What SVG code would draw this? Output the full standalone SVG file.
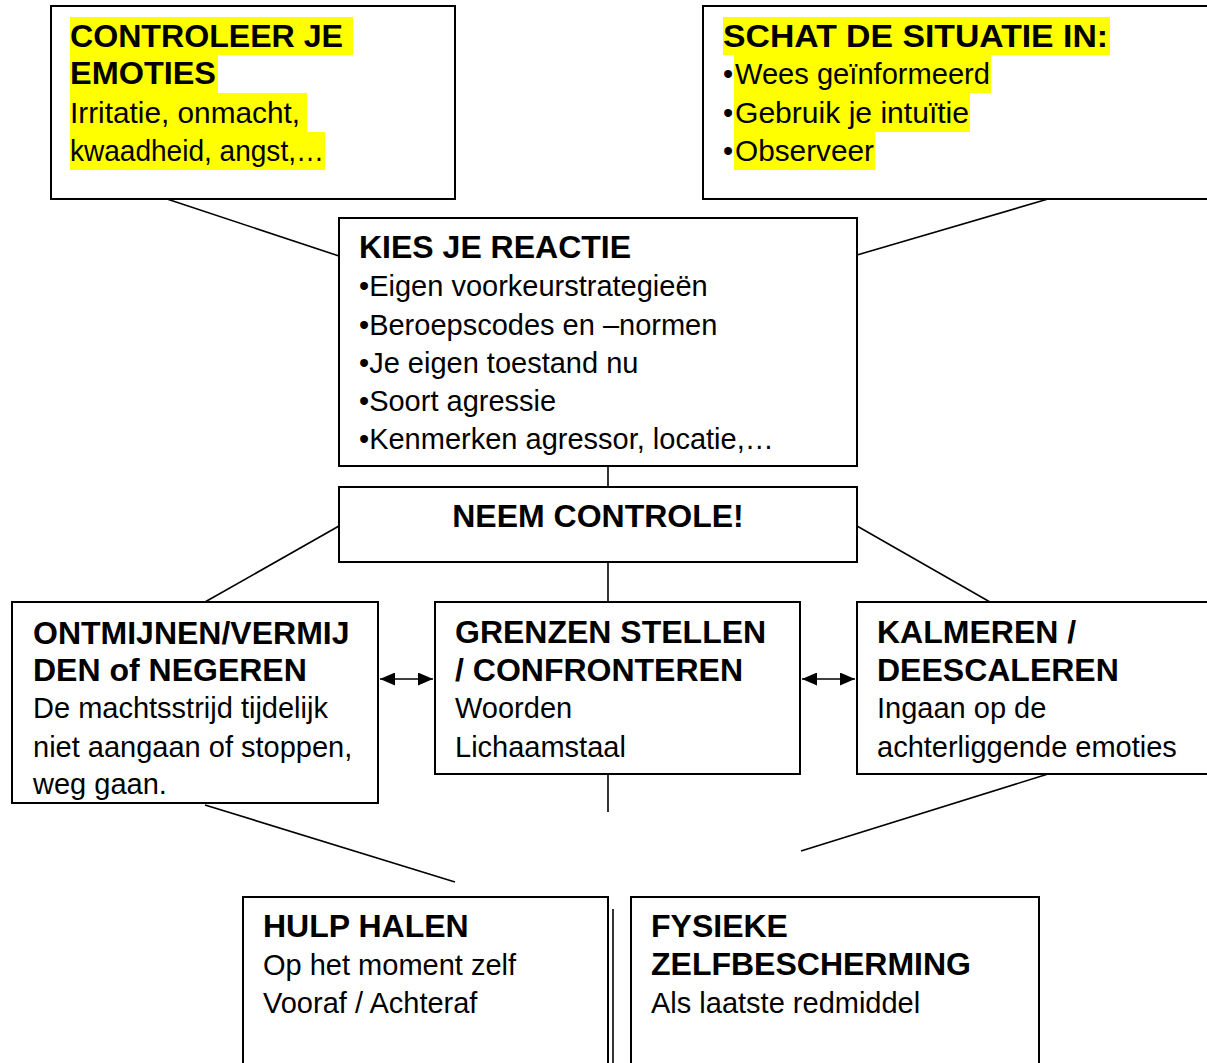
<svg xmlns="http://www.w3.org/2000/svg" width="1207" height="1063" viewBox="0 0 1207 1063">
<style>
.box{fill:#fff;stroke:#000;stroke-width:2}
.t{font-family:"Liberation Sans",Arial,sans-serif;font-size:29px;fill:#000}
.b{font-family:"Liberation Sans",Arial,sans-serif;font-size:32px;font-weight:bold;fill:#000}
.hl{fill:#ffff00}
.ln{stroke:#000;stroke-width:1.6;fill:none}
</style>
<defs>
<marker id="ah2" viewBox="0 0 15 13" refX="15" refY="6.5" markerWidth="15" markerHeight="13" orient="auto-start-reverse" markerUnits="userSpaceOnUse">
<path d="M0,0 L15,6.5 L0,13 z" fill="#000"/>
</marker>
</defs>
<rect width="1207" height="1063" fill="#fff"/>
<g id="connectors">
<line class="ln" x1="167" y1="199" x2="339" y2="256"/>
<line class="ln" x1="1048" y1="199" x2="857" y2="255"/>
<line class="ln" x1="608" y1="466" x2="608" y2="487"/>
<line class="ln" x1="339" y1="526" x2="205" y2="602"/>
<line class="ln" x1="857" y1="526" x2="990" y2="602"/>
<line class="ln" x1="608" y1="562" x2="608" y2="602"/>
<line class="ln" x1="380" y1="679" x2="433" y2="679" marker-start="url(#ah2)" marker-end="url(#ah2)"/>
<line class="ln" x1="802" y1="679" x2="855" y2="679" marker-start="url(#ah2)" marker-end="url(#ah2)"/>
<line class="ln" x1="608" y1="774" x2="608" y2="812"/>
<line class="ln" x1="205" y1="805" x2="455" y2="882"/>
<line class="ln" x1="1048" y1="774" x2="801" y2="851"/>
<line class="ln" x1="613" y1="909" x2="613" y2="1063"/>
</g>
<g id="emoties">
<rect class="box" x="51" y="6" width="404" height="193"/>
<rect class="hl" x="70" y="17" width="283" height="38"/>
<rect class="hl" x="70" y="55" width="148" height="38"/>
<rect class="hl" x="70" y="93" width="237" height="39"/>
<rect class="hl" x="70" y="132" width="255" height="38"/>
<text class="b" x="70" y="47" textLength="273" lengthAdjust="spacingAndGlyphs">CONTROLEER JE</text>
<text class="b" x="70" y="84" textLength="146" lengthAdjust="spacingAndGlyphs">EMOTIES</text>
<text class="t" x="70" y="123" textLength="230" lengthAdjust="spacingAndGlyphs">Irritatie, onmacht,</text>
<text class="t" x="70" y="161" textLength="254" lengthAdjust="spacingAndGlyphs">kwaadheid, angst,…</text>
</g>
<g id="situatie">
<rect class="box" x="703" y="6" width="510" height="193"/>
<rect class="hl" x="723" y="17" width="387" height="38"/>
<rect class="hl" x="734" y="55" width="257" height="38"/>
<rect class="hl" x="734" y="93" width="236" height="39"/>
<rect class="hl" x="734" y="132" width="141" height="38"/>
<text class="b" x="723" y="47" textLength="385" lengthAdjust="spacingAndGlyphs">SCHAT DE SITUATIE IN:</text>
<text class="t" x="723" y="84">•</text>
<text class="t" x="735" y="84" textLength="255" lengthAdjust="spacingAndGlyphs">Wees geïnformeerd</text>
<text class="t" x="723" y="123">•</text>
<text class="t" x="735" y="123" textLength="234" lengthAdjust="spacingAndGlyphs">Gebruik je intuïtie</text>
<text class="t" x="723" y="161">•</text>
<text class="t" x="735" y="161" textLength="139" lengthAdjust="spacingAndGlyphs">Observeer</text>
</g>
<g id="reactie">
<rect class="box" x="339" y="218" width="518" height="248"/>
<text class="b" x="359" y="258">KIES JE REACTIE</text>
<text class="t" x="359" y="296">•Eigen voorkeurstrategieën</text>
<text class="t" x="359" y="335">•Beroepscodes en –normen</text>
<text class="t" x="359" y="373">•Je eigen toestand nu</text>
<text class="t" x="359" y="411">•Soort agressie</text>
<text class="t" x="359" y="449">•Kenmerken agressor, locatie,…</text>
</g>
<g id="controle">
<rect class="box" x="339" y="487" width="518" height="75"/>
<text class="b" x="598" y="527" text-anchor="middle">NEEM CONTROLE!</text>
</g>
<g id="ontmijnen">
<rect class="box" x="12" y="602" width="366" height="201"/>
<text class="b" x="33" y="644">ONTMIJNEN/VERMIJ</text>
<text class="b" x="33" y="681">DEN of NEGEREN</text>
<text class="t" x="33" y="718">De machtsstrijd tijdelijk</text>
<text class="t" x="33" y="757">niet aangaan of stoppen,</text>
<text class="t" x="33" y="794">weg gaan.</text>
</g>
<g id="grenzen">
<rect class="box" x="435" y="602" width="365" height="172"/>
<text class="b" x="455" y="643">GRENZEN STELLEN</text>
<text class="b" x="455" y="681">/ CONFRONTEREN</text>
<text class="t" x="455" y="718">Woorden</text>
<text class="t" x="455" y="757">Lichaamstaal</text>
</g>
<g id="kalmeren">
<rect class="box" x="857" y="602" width="360" height="172"/>
<text class="b" x="877" y="643">KALMEREN /</text>
<text class="b" x="877" y="681">DEESCALEREN</text>
<text class="t" x="877" y="718">Ingaan op de</text>
<text class="t" x="877" y="757">achterliggende emoties</text>
</g>
<g id="hulp">
<rect class="box" x="243" y="897" width="365" height="180"/>
<text class="b" x="263" y="937">HULP HALEN</text>
<text class="t" x="263" y="975">Op het moment zelf</text>
<text class="t" x="263" y="1013">Vooraf / Achteraf</text>
</g>
<g id="fysieke">
<rect class="box" x="631" y="897" width="408" height="180"/>
<text class="b" x="651" y="937">FYSIEKE</text>
<text class="b" x="651" y="975">ZELFBESCHERMING</text>
<text class="t" x="651" y="1013">Als laatste redmiddel</text>
</g>
</svg>
